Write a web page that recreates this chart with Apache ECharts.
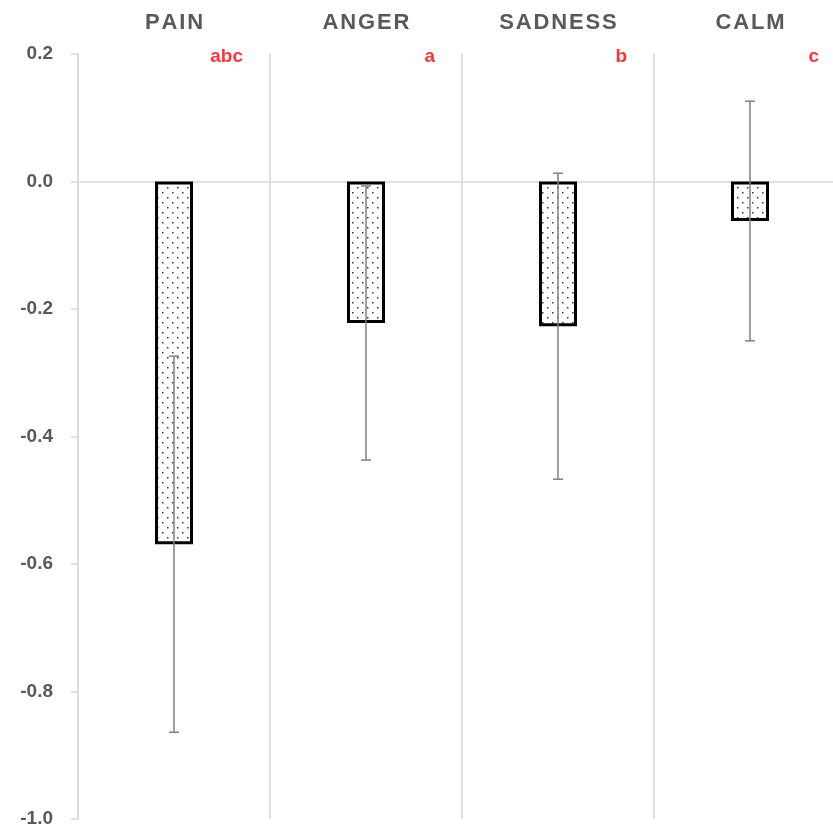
<!DOCTYPE html>
<html>
<head>
<meta charset="utf-8">
<script src="https://cdn.jsdelivr.net/npm/echarts@6.0.0/dist/echarts.min.js"></script>
<style>
  html, body { margin: 0; padding: 0; background: #ffffff; }
  #chart { width: 833px; height: 831px; }
</style>
</head>
<body>
<div id="chart"></div>
<script>
// Mean change per emotion, with symmetric error bars and significance letters
const categories = ['PAIN', 'ANGER', 'SADNESS', 'CALM'];
const means = [-0.569, -0.222, -0.227, -0.062];
const errors = [0.295, 0.215, 0.240, 0.188];
const letters = ['abc', 'a', 'b', 'c'];
const yMin = -1.0;
const yMax = 0.2;
const yStep = 0.2;

// Dotted fill tile for the bars
function dotTile() {
  const c = document.createElement('canvas');
  c.width = 10; c.height = 10;
  const g = c.getContext('2d');
  g.fillStyle = '#ffffff';
  g.fillRect(0, 0, 10, 10);
  g.fillStyle = '#3a3a3a';
  g.fillRect(2, 2, 1.5, 1.5);
  g.fillRect(7, 7, 1.5, 1.5);
  return c;
}

const gridLine = '#d9d9d9';
const textGray = '#595959';
const spaced = s => s.split('').join('\u200A');

const chart = echarts.init(document.getElementById('chart'), null, { renderer: 'canvas' });

chart.setOption({
  animation: false,
  backgroundColor: '#ffffff',
  grid: {
    left: 78, top: 54, width: 768, height: 765,
    containLabel: false,
    outerBoundsMode: 'none'
  },
  xAxis: {
    type: 'category',
    data: categories,
    position: 'top',
    axisLine: { show: false },
    axisTick: { show: false },
    splitLine: { show: true, lineStyle: { color: gridLine, width: 1.5 } },
    axisLabel: {
      color: textGray,
      fontFamily: 'Liberation Sans',
      fontWeight: 'bold',
      fontSize: 22,
      margin: 20,
      formatter: v => spaced(v)
    }
  },
  yAxis: {
    type: 'value',
    min: yMin,
    max: yMax,
    interval: yStep,
    axisLine: { show: true, lineStyle: { color: gridLine, width: 1.5 } },
    axisTick: { show: true, length: 7, lineStyle: { color: gridLine, width: 1.5 } },
    splitLine: { show: false },
    axisLabel: {
      color: textGray,
      fontFamily: 'Liberation Sans',
      fontWeight: 'bold',
      fontSize: 19,
      margin: 25,
      formatter: v => (Math.abs(v) < 1e-9 ? 0 : v).toFixed(1)
    }
  },
  series: [
    {
      type: 'bar',
      data: means,
      barWidth: 38,
      z: 3,
      itemStyle: {
        color: { image: dotTile(), repeat: 'repeat' },
        borderColor: '#000000',
        borderWidth: 3
      },
      markLine: {
        silent: true,
        symbol: 'none',
        z: 1,
        label: { show: false },
        lineStyle: { color: gridLine, width: 1.5, type: 'solid' },
        data: [{ yAxis: 0 }]
      }
    },
    {
      type: 'custom',
      z: 5,
      data: categories.map((c, i) => [i, means[i] - errors[i], means[i] + errors[i]]),
      renderItem: (params, api) => {
        const lo = api.coord([api.value(0), api.value(1)]);
        const hi = api.coord([api.value(0), api.value(2)]);
        const hw = 5;
        const st = { stroke: '#7f7f7f', lineWidth: 1.5 };
        return {
          type: 'group',
          children: [
            { type: 'line', shape: { x1: lo[0], y1: lo[1], x2: hi[0], y2: hi[1] }, style: st },
            { type: 'line', shape: { x1: lo[0] - hw, y1: lo[1], x2: lo[0] + hw, y2: lo[1] }, style: st },
            { type: 'line', shape: { x1: hi[0] - hw, y1: hi[1], x2: hi[0] + hw, y2: hi[1] }, style: st }
          ]
        };
      }
    },
    {
      type: 'scatter',
      symbolSize: 0,
      silent: true,
      z: 6,
      data: categories.map((c, i) => [i, yMax]),
      label: {
        show: true,
        position: 'inside',
        align: 'right',
        verticalAlign: 'middle',
        offset: [69, 3],
        color: '#ff0000',
        fontFamily: 'Liberation Sans',
        fontWeight: 'bold',
        fontSize: 19,
        formatter: p => letters[p.dataIndex]
      }
    }
  ]
});
</script>
</body>
</html>
